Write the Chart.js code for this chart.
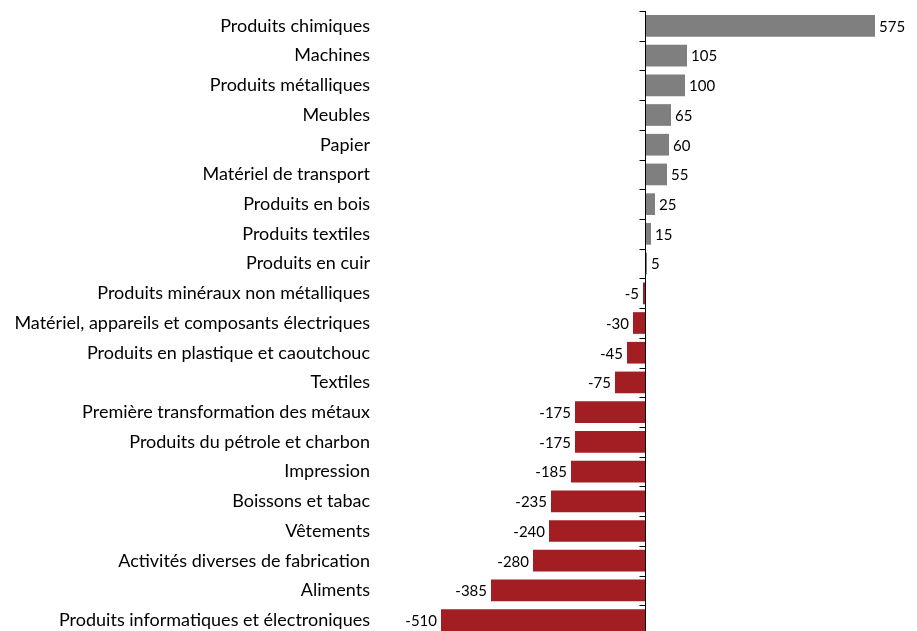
<!DOCTYPE html>
<html>
<head>
<meta charset="utf-8">
<script src="https://cdn.jsdelivr.net/npm/chart.js@4.4.0/dist/chart.umd.min.js"></script>
<style>
  html, body { margin: 0; padding: 0; background: #fff; overflow: hidden; }
  #wrap { width: 917px; height: 635px; }
</style>
</head>
<body>
<div id="wrap"><canvas id="chart"></canvas></div>
<script>
// categories et valeurs
const categories = [
  'Produits chimiques', 'Machines', 'Produits métalliques', 'Meubles', 'Papier',
  'Matériel de transport', 'Produits en bois', 'Produits textiles', 'Produits en cuir',
  'Produits minéraux non métalliques', 'Matériel, appareils et composants électriques',
  'Produits en plastique et caoutchouc', 'Textiles', 'Première transformation des métaux',
  'Produits du pétrole et charbon', 'Impression', 'Boissons et tabac', 'Vêtements',
  'Activités diverses de fabrication', 'Aliments', 'Produits informatiques et électroniques'
];
const values = [575, 105, 100, 65, 60, 55, 25, 15, 5, -5, -30, -45, -75, -175, -175, -185, -235, -240, -280, -385, -510];

const GRAY = '#7f7f7f';
const RED = '#a31e23';
const FONT = 'Lato';

// axe vertical au zéro + petites graduations
const zeroAxis = {
  id: 'zeroAxis',
  afterDatasetsDraw(chart) {
    const { ctx, chartArea, scales } = chart;
    const x0 = Math.round(scales.x.getPixelForValue(0)) + 0.5;
    const step = (chartArea.bottom - chartArea.top) / categories.length;
    ctx.save();
    ctx.strokeStyle = '#000';
    ctx.lineWidth = 1;
    ctx.beginPath();
    ctx.moveTo(x0, chartArea.top);
    ctx.lineTo(x0, chartArea.bottom);
    for (let i = 0; i <= categories.length; i++) {
      const yy = Math.round(chartArea.top + i * step) + 0.5;
      ctx.moveTo(x0 - 6, yy);
      ctx.lineTo(x0, yy);
    }
    ctx.stroke();
    ctx.restore();
  }
};

// étiquettes de valeurs
const valueLabels = {
  id: 'valueLabels',
  afterDatasetsDraw(chart) {
    const { ctx } = chart;
    const meta = chart.getDatasetMeta(0);
    ctx.save();
    ctx.font = '15px ' + FONT;
    ctx.fillStyle = '#000';
    ctx.textBaseline = 'middle';
    meta.data.forEach((bar, i) => {
      const v = values[i];
      if (v >= 0) {
        ctx.textAlign = 'left';
        ctx.fillText(String(v), bar.x + 4, bar.y + 1);
      } else {
        ctx.textAlign = 'right';
        ctx.fillText(String(v), bar.x - 4, bar.y + 1);
      }
    });
    ctx.restore();
  }
};

new Chart(document.getElementById('chart'), {
  type: 'bar',
  data: {
    labels: categories,
    datasets: [{
      data: values,
      backgroundColor: values.map(v => v >= 0 ? GRAY : RED),
      barPercentage: 0.73,
      categoryPercentage: 1
    }]
  },
  options: {
    indexAxis: 'y',
    responsive: true,
    maintainAspectRatio: false,
    animation: false,
    layout: { padding: { top: 11, right: 10, bottom: 0, left: 0 } },
    plugins: { legend: { display: false }, tooltip: { enabled: false } },
    scales: {
      x: {
        min: -662.5,
        max: 655,
        display: false,
        grid: { display: false }
      },
      y: {
        afterFit(scale) {
          scale.width = 380;
          scale.paddingTop = 0;
          scale.paddingBottom = 0;
        },
        grid: { display: false, drawTicks: false },
        border: { display: false },
        ticks: {
          color: '#000',
          padding: 10,
          autoSkip: false,
          font: { family: FONT, size: 18 }
        }
      }
    }
  },
  plugins: [zeroAxis, valueLabels]
});
</script>
</body>
</html>
